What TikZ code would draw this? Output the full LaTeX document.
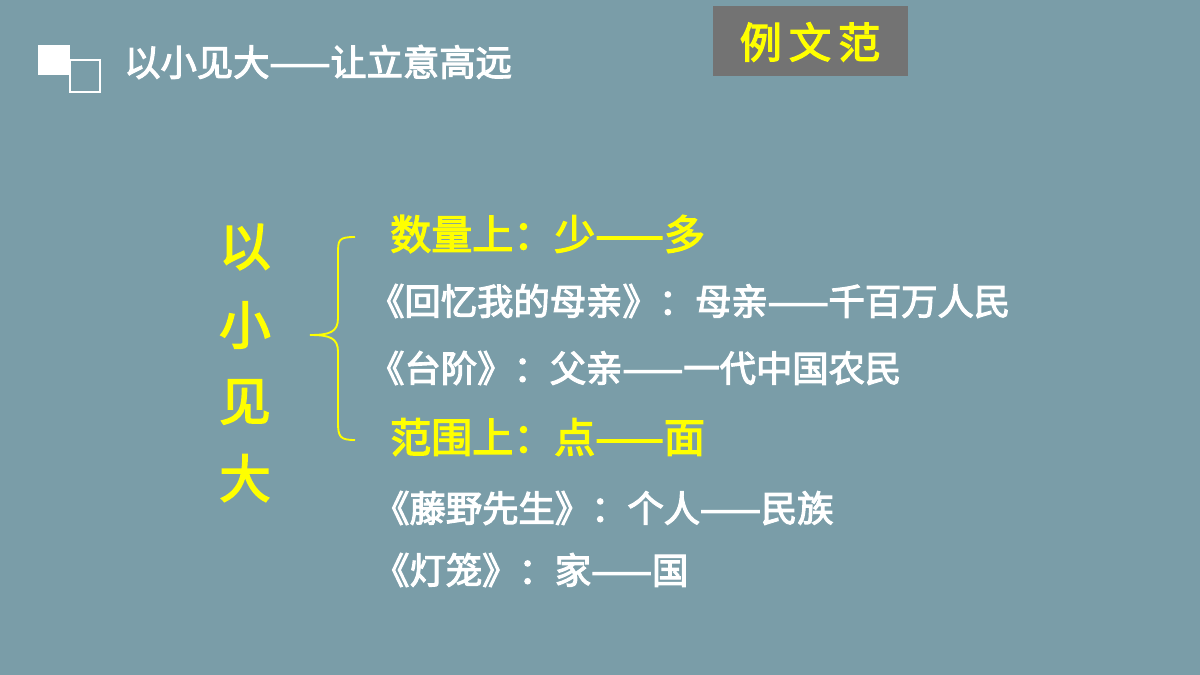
\documentclass[tikz,border=0pt]{standalone}
\usepackage{fontspec}
\setmainfont{Noto Sans CJK SC}
\newfontfamily\cjkb{Noto Sans CJK SC}[FakeBold=3]
\definecolor{bg}{HTML}{7A9DA8}
\definecolor{yel}{HTML}{FFFF00}
\begin{document}
\begin{tikzpicture}[x=0.03cm,y=-0.03cm,
  wt/.style={text=white,anchor=west,inner sep=0,font=\cjkb\fontsize{31}{34}\selectfont},
  yt/.style={text=yel,anchor=west,inner sep=0,font=\cjkb\fontsize{35}{38}\selectfont},
  vt/.style={text=yel,inner sep=0,font=\cjkb\fontsize{44}{48}\selectfont}]
\fill[bg] (0,0) rectangle (1200,675);
\useasboundingbox (0,0) rectangle (1200,675);
\fill[white] (38,45) rectangle (70,75);
\draw[white,line width=1.2pt] (70,60) rectangle (100,92);
\node[wt,font=\cjkb\fontsize{31}{34}\selectfont] (title) at (124,62) {以小见大——让立意高远};
\fill[gray!90!black] (713,6) rectangle (908,76);
\node[text=yel,font=\cjkb\fontsize{36}{40}\selectfont] (ex) at (810,42) {例\,文\,范};
\node[vt] (v1) at (245,247) {以};
\node[vt] (v2) at (245,325) {小};
\node[vt] (v3) at (245,402) {见};
\node[vt] (v4) at (245,478) {大};
\draw[yel,line width=1.6pt] (355,237) .. controls (338,237) and (338,240) .. (338,255) -- (338,318) .. controls (338,332) and (330,335) .. (310,335) .. controls (330,335) and (338,338) .. (338,352) -- (338,422) .. controls (338,437) and (340,440) .. (355,440);
\node[yt] (a) at (390,234) {数量上：少——多};
\node[wt] (b) at (368,301) {《回忆我的母亲》：母亲——千百万人民};
\node[wt] (c) at (368,368) {《台阶》：父亲——一代中国农民};
\node[yt] (d) at (390,437) {范围上：点——面};
\node[wt] (e) at (373,508) {《藤野先生》：个人——民族};
\node[wt] (f) at (373,570) {《灯笼》：家——国};
\end{tikzpicture}
\end{document}
